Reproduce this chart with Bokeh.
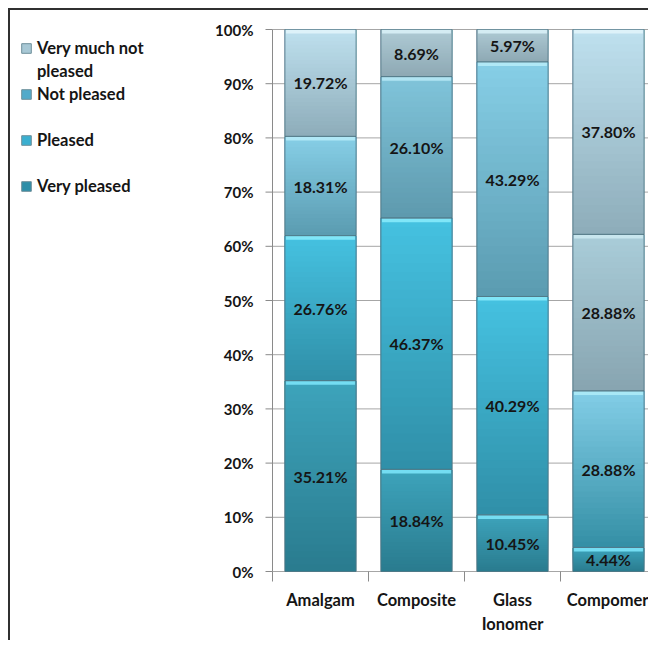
from bokeh.plotting import figure
from bokeh.models import Range1d, FixedTicker, ColumnDataSource, Legend, LegendItem
from bokeh.embed import file_html
from bokeh.resources import INLINE
from bokeh.core.properties import value

# ---------------- data ----------------
categories = ["Amalgam", "Composite", "Glass\nIonomer", "Compomer"]
series_names = ["Very pleased", "Pleased", "Not pleased", "Very much not pleased"]
very_pleased = [35.21, 18.84, 10.45, 4.44]
pleased = [26.76, 46.37, 40.29, 28.88]
not_pleased = [18.31, 26.10, 43.29, 28.88]
very_much_not_pleased = [19.72, 8.69, 5.97, 37.80]
y_ticks = [0, 10, 20, 30, 40, 50, 60, 70, 80, 90, 100]
y_tick_labels = ["0%", "10%", "20%", "30%", "40%", "50%", "60%", "70%", "80%", "90%", "100%"]

series_values = [very_pleased, pleased, not_pleased, very_much_not_pleased]

# ---------------- styles ----------------
FONT = "Lato"
TXT = "#151515"
AXIS = "#8A8A8A"
BORDER = "2px solid #303030"
grad = {
    "Very pleased": ("#3DA3BB", "#2A7C8F", "#74DDF2"),
    "Pleased": ("#45C1E0", "#3090A9", "#80E6F8"),
    "Not pleased": ("#86CEE6", "#5B9CB1", "#B0E8F6"),
    "Very much not pleased": ("#BEE0EE", "#8EADBA", "#DDF2F9"),
}
override = {
    ("Pleased", "Compomer"): ("#82CDE6", "#3590A6", "#A8E8F6"),
    ("Not pleased", "Compomer"): ("#A9CCD8", "#88A5B1", "#C8E6EE"),
    ("Not pleased", "Composite"): ("#80C4DA", "#5E9AAE", "#B0E4F2"),
    ("Very much not pleased", "Composite"): ("#AECAD4", "#8EA9B4", "#D4ECF3"),
    ("Very much not pleased", "Glass\nIonomer"): ("#AECAD4", "#8EA9B4", "#D4ECF3"),
}
legend_colors = {
    "Very pleased": "#2D8EA8",
    "Pleased": "#3AAFD0",
    "Not pleased": "#52AACA",
    "Very much not pleased": "#A8C8D5",
}


def hx(c):
    c = c.lstrip("#")
    return [int(c[i:i + 2], 16) for i in (0, 2, 4)]


def mix(c1, c2, t):
    a, b = hx(c1), hx(c2)
    return "#%02x%02x%02x" % tuple(int(round(a[i] + (b[i] - a[i]) * t)) for i in range(3))


N = 28
BAR_W = 0.74
CAT_W_PX = 96.0       # pixels per category
AXIS_X_PX = 262       # distance from frame left to the value axis
W, H = 640, 632
PX = 1.0 / CAT_W_PX   # one pixel in x data units
PLOT_H_PX = 542.0     # pixels for 0..100 %
PAD_PX = 10           # frame padding above 100 % and below 0 %
PY = 100.0 / PLOT_H_PX
TOP_B = 9
BOT_B = H - TOP_B - int(PLOT_H_PX + 2 * PAD_PX)

p = figure(width=W, height=H, output_backend="svg", toolbar_location=None,
           x_range=Range1d(-AXIS_X_PX * PX, (W - AXIS_X_PX) * PX),
           y_range=Range1d(-PAD_PX * PY, 100 + PAD_PX * PY),
           y_axis_location=None,
           min_border_left=0, min_border_right=0, min_border_top=TOP_B, min_border_bottom=BOT_B)
p.styles = {"border-top": BORDER, "border-left": BORDER,
            "margin-left": "8px", "margin-top": "8px"}
p.outline_line_color = None
p.background_fill_color = "white"
p.xgrid.grid_line_color = None
p.ygrid.grid_line_color = None

ncat = len(categories)
# value axis (drawn at x = 0 from the tick list)
p.segment(x0=[0] * len(y_ticks), y0=y_ticks, x1=[ncat] * len(y_ticks), y1=y_ticks,
          line_color="#A6A6A6", line_width=1)
p.segment(x0=[-7 * PX] * len(y_ticks), y0=y_ticks, x1=[0] * len(y_ticks), y1=y_ticks,
          line_color=AXIS, line_width=1)
p.segment(x0=[0], y0=[y_ticks[0]], x1=[0], y1=[y_ticks[-1]], line_color=AXIS, line_width=1)
p.text(x=[-19 * PX] * len(y_ticks), y=y_ticks, text=y_tick_labels, text_align="right",
       text_baseline="middle", text_font=value(FONT), text_font_style="bold",
       text_font_size="15px", text_color=TXT)

stacks = []
base = {}
gx, gb, gt, gc = [], [], [], []
ox, ob, ot = [], [], []
hxs, hb, ht, hc = [], [], [], []
lx, ly, lt = [], [], []
bottoms = [0.0] * ncat
for name, vals in zip(series_names, series_values):
    sb, st, sx = [], [], []
    for ci, cat in enumerate(categories):
        y0 = bottoms[ci]
        y1 = y0 + vals[ci]
        top_c, bot_c, hi_c = override.get((name, cat), grad[name])
        xc = ci + 0.5
        sx.append(xc); sb.append(y0); st.append(y1)
        for k in range(N):
            gx.append(xc)
            gb.append(y0 + (y1 - y0) * k / N)
            gt.append(y1)
            gc.append(mix(bot_c, top_c, k / (N - 1)))
        ox.append(xc); ob.append(y0); ot.append(y1)
        hxs.append(xc); hb.append(y1 - 0.75); ht.append(y1); hc.append(hi_c)
        lx.append(xc); ly.append((y0 + y1) / 2); lt.append("%.2f%%" % vals[ci])
        bottoms[ci] = y1
    # solid series bar (covered by the gradient; used by the legend)
    base[name] = p.vbar(x=sx, bottom=sb, top=st, width=BAR_W, fill_color=legend_colors[name],
                        line_color="#6E8F9A", line_width=1)

p.vbar(x="x", bottom="b", top="t", width=BAR_W, fill_color="c", line_color=None,
       source=ColumnDataSource(dict(x=gx, b=gb, t=gt, c=gc)))
p.vbar(x="x", bottom="b", top="t", width=BAR_W * 0.97, fill_color="c", line_color=None,
       source=ColumnDataSource(dict(x=hxs, b=hb, t=ht, c=hc)))
p.vbar(x="x", bottom="b", top="t", width=BAR_W, fill_color=None, line_color="#4F7482",
       line_alpha=0.7, line_width=1, source=ColumnDataSource(dict(x=ox, b=ob, t=ot)))
p.text(x="x", y="y", text="t", source=ColumnDataSource(dict(x=lx, y=ly, t=lt)),
       text_align="center", text_baseline="middle", text_font=value(FONT),
       text_font_style="bold", text_font_size="16px", text_color=TXT)

# category axis (boundary ticks start at the 0 % line)
p.xaxis.ticker = FixedTicker(ticks=[i + 0.5 for i in range(ncat)],
                             minor_ticks=list(range(ncat + 1)))
p.xaxis.major_label_overrides = {i + 0.5: c for i, c in enumerate(categories)}
p.xaxis.major_tick_line_color = None
p.xaxis.major_tick_out = 0
p.xaxis.major_tick_in = 0
p.xaxis.minor_tick_out = 0
p.xaxis.minor_tick_in = PAD_PX
p.xaxis.minor_tick_line_color = AXIS
p.xaxis.axis_line_color = None
p.xaxis.major_label_standoff = 8
p.xaxis.major_label_text_font = FONT
p.xaxis.major_label_text_font_style = "bold"
p.xaxis.major_label_text_color = TXT
p.xaxis.major_label_text_font_size = "16.5px"

# legend (blank rows reproduce the uneven spacing)
blank = p.rect(x=[], y=[], width=1, height=1, fill_alpha=0, line_alpha=0)
items = [
    LegendItem(label=value("Very much not"), renderers=[base["Very much not pleased"]]),
    LegendItem(label=value("pleased"), renderers=[blank]),
    LegendItem(label=value("Not pleased"), renderers=[base["Not pleased"]]),
    LegendItem(label=value(" "), renderers=[blank]),
    LegendItem(label=value("Pleased"), renderers=[base["Pleased"]]),
    LegendItem(label=value(" "), renderers=[blank]),
    LegendItem(label=value("Very pleased"), renderers=[base["Very pleased"]]),
]
# legend offset measured from the frame's bottom-left corner
lg = Legend(items=items, location=(10, 373.5 + PAD_PX), margin=0, padding=0, spacing=0,
            glyph_width=12, glyph_height=12, label_standoff=5, label_height=23,
            border_line_color=None, background_fill_alpha=0,
            label_text_font=FONT, label_text_font_style="bold",
            label_text_font_size="16.5px", label_text_color=TXT)
p.add_layout(lg, "center")

open("out.html", "w").write(file_html(p, INLINE))
